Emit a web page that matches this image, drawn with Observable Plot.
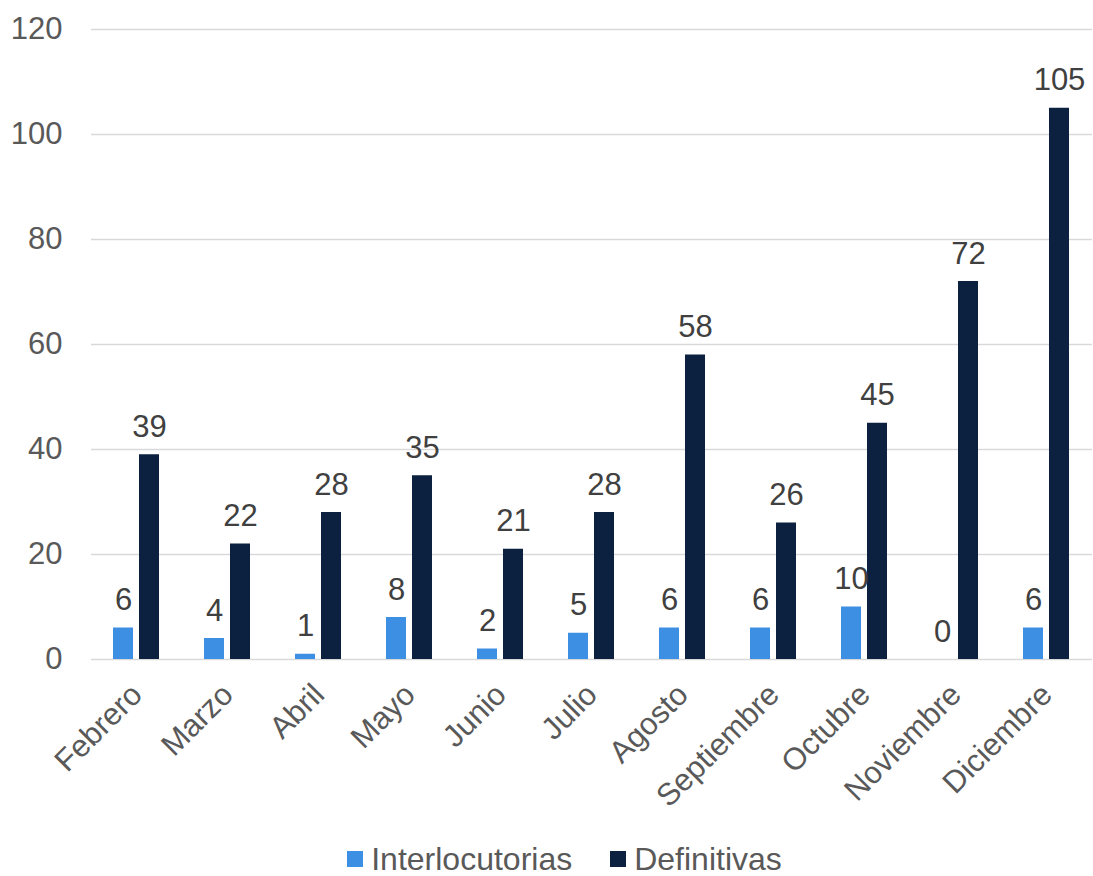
<!DOCTYPE html>
<html>
<head>
<meta charset="utf-8">
<script src="https://cdn.jsdelivr.net/npm/d3@7"></script>
<script src="https://cdn.jsdelivr.net/npm/@observablehq/plot@0.6"></script>
<style>
  html, body { margin: 0; padding: 0; background: #fff; }
  body { width: 1093px; font-family: "Liberation Sans", Arial, sans-serif; }
  #legend { display: flex; justify-content: center; align-items: center; font-size: 32px; line-height: 1; color: #595959; margin-top: 13px; padding-left: 36px; }
  .item { display: flex; align-items: center; margin: 0 19px; }
  .sw { width: 16px; height: 16px; margin-right: 8px; }
</style>
</head>
<body>
<div id="chart"></div>
<div id="legend"></div>
<script>
const months = ["Febrero","Marzo","Abril","Mayo","Junio","Julio","Agosto","Septiembre","Octubre","Noviembre","Diciembre"];
const series = ["Interlocutorias","Definitivas"];
const interlocutorias = [6,4,1,8,2,5,6,6,10,0,6];
const definitivas = [39,22,28,35,21,28,58,26,45,72,105];
const colors = ["#3c8fe3","#0b213f"];
const yTicks = [0,20,40,60,80,100,120];

const data = [];
months.forEach((m, i) => {
  data.push({month: m, series: series[0], value: interlocutorias[i]});
  data.push({month: m, series: series[1], value: definitivas[i]});
});

const chart = Plot.plot({
  width: 1093,
  height: 830,
  marginTop: 29,
  marginLeft: 91,
  marginRight: 1,
  marginBottom: 171,
  style: {fontFamily: "'Liberation Sans', Arial, sans-serif", fontSize: "31px", color: "#595959", background: "#fff"},
  fx: {domain: months, padding: 0, label: null, axis: "bottom", tickSize: 0, tickPadding: 30, tickRotate: -45},
  x: {domain: series, axis: null, paddingInner: 0.23, paddingOuter: 0.865},
  y: {domain: [0, 120], label: null, axis: null},
  color: {domain: series, range: colors},
  marks: [
    Plot.gridY(yTicks, {stroke: "#d9d9d9", strokeOpacity: 1, strokeWidth: 1.5}),
    Plot.axisY(yTicks, {tickSize: 0, tickPadding: 29, fontSize: 31, fill: "#595959", label: null}),
    Plot.barY(data, {fx: "month", x: "series", y: "value", fill: "series"}),
    Plot.text(data, {fx: "month", x: "series", y: "value", text: d => String(d.value), lineAnchor: "bottom", dy: -18, fontSize: 31, fill: "#404040"})
  ]
});
document.getElementById("chart").appendChild(chart);

const legend = document.getElementById("legend");
series.forEach((s, i) => {
  const it = document.createElement("div");
  it.className = "item";
  const sw = document.createElement("div");
  sw.className = "sw";
  sw.style.background = colors[i];
  const t = document.createElement("span");
  t.textContent = s;
  it.appendChild(sw); it.appendChild(t);
  legend.appendChild(it);
});
</script>
</body>
</html>
